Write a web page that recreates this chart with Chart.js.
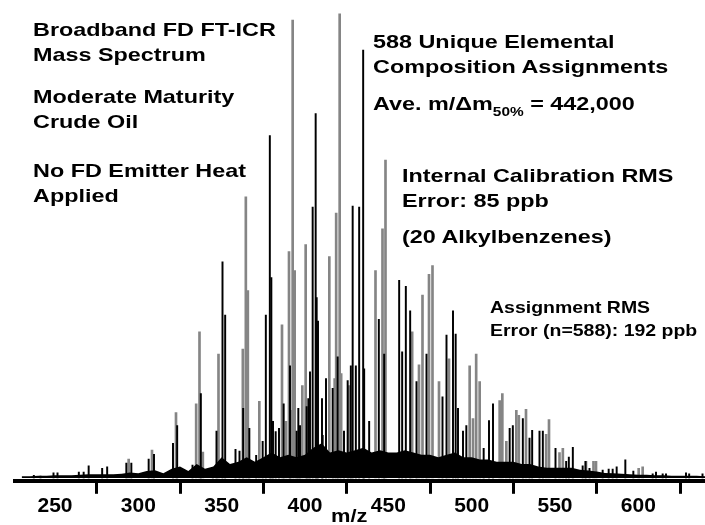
<!DOCTYPE html>
<html>
<head>
<meta charset="utf-8">
<script src="https://cdn.jsdelivr.net/npm/chart.js@4/dist/chart.umd.min.js"></script>
<style>
  html, body { margin: 0; padding: 0; background: #fff; }
  #wrap { position: relative; width: 705px; height: 525px; overflow: hidden; }
  #spec { position: absolute; left: 0; top: 0; }
  .note {
    position: absolute;
    font-family: "Liberation Sans", Arial, sans-serif;
    font-weight: bold;
    color: #000;
    white-space: nowrap;
    line-height: 1;
    transform-origin: 0 0;
  }
  .note sub { font-size: 0.66em; vertical-align: -0.45em; line-height: 0; }
</style>
</head>
<body>
<div id="wrap">
  <canvas id="spec" width="705" height="525"></canvas>
</div>
<script>
// peaks drawn in gray (m/z, relative abundance %)
const grayMz = [294.2, 308.2, 322.6, 334.7, 336.7, 338.7, 348.1, 362.7, 364.5, 365.7,
  372.6, 386.2, 388.6, 390.4, 391.6, 392.6, 393.8, 398.4, 400.4, 414.6,
  417.8, 418.7, 420.8, 421.7, 426.5, 442.3, 446.5, 448.3, 464.3, 468.4, 470.5,
  474.4, 476.5, 480.4, 486.4, 498.8, 500.8, 502.7, 504.8, 516.8, 518.4,
  520.8, 526.8, 528.3, 532.6, 544.7, 546.4, 552.7, 554.7, 568.6, 573.1, 574.6, 600.2, 602.6];
const grayInt = [4.1, 6.0, 14.1, 16.0, 31.5, 5.6, 26.7, 27.8, 60.6, 40.4,
  16.5, 33.0, 12.2, 48.8, 14.6, 98.7, 44.7, 19.9, 50.3, 47.7,
  21.4, 57.1, 100, 22.5, 19.9, 44.7, 53.7, 68.5, 31.5, 24.4, 39.4,
  43.9, 45.8, 20.8, 25.7, 24.2, 12.8, 26.7, 20.8, 16.7, 18.2,
  7.9, 14.6, 13.5, 14.8, 9.4, 12.6, 5.5, 6.4, 3.6, 3.6, 3.6, 2.1, 2.4];

// peaks drawn in black
const blackMz = [237.3, 241.3, 249.1, 251.5, 264.3, 267.2, 270.2, 278.3, 281.3, 292.8,
  295.8, 306.2, 309.4, 320.8, 323.3, 332.5, 337.5, 344.7, 346.9, 350.5,
  352.1, 358.3, 360.7, 362.9, 366.6, 370.7, 374.6, 376.5, 378.9, 379.8,
  380.8, 382.4, 384.4, 387.2, 391.0, 395.0, 396.0, 397.0, 401.0, 402.0, 403.0,
  404.6, 406.4, 407.0, 407.8, 410.2, 410.6, 412.6, 416.6, 419.6, 423.4,
  425.6, 427.5, 428.6, 430.5, 432.5, 434.9,
  435.5, 438.5, 444.3, 447.5, 456.5, 458.3, 460.5, 463.1, 466.9, 472.9,
  482.5, 484.9, 488.8, 490.4, 491.8, 494.8, 496.8, 507.2, 510.4, 512.8, 522.8,
  524.7, 530.7, 534.7, 536.3, 540.7, 542.7, 550.3, 556.7, 558.3, 560.7, 566.6, 568.3,
  570.7, 578.6, 582.2, 584.6, 587.0, 592.2, 597.0, 608.6, 610.6, 614.6,
  616.6, 628.6, 630.5, 638.5];
const blackInt = [0.6, 0.4, 1.1, 1.1, 1.3, 1.3, 2.6, 2.1, 2.4, 3.2,
  3.2, 4.1, 5.1, 7.5, 11.3, 2.8, 18.2, 1.7, 10.1, 46.6,
  35.1, 6.2, 5.8, 15.0, 10.7, 4.9, 7.9, 35.1, 73.8, 43.2,
  12.2, 10.0, 10.7, 16.0, 24.2, 10.1, 15.0, 11.3, 15.4, 17.1, 22.9,
  58.4, 78.5, 38.9, 33.8, 17.1, 9.2, 21.4, 19.3, 26.1, 10.1,
  21.0, 24.2, 58.6, 24.2, 58.4, 92.2,
  23.5, 12.2, 34.2, 26.7, 42.6, 27.2, 41.3, 36.0, 20.8, 26.7,
  17.5, 30.8, 36.0, 31.0, 15.0, 10.1, 11.3, 6.4, 12.4, 16.0, 10.7,
  11.3, 12.8, 8.6, 10.3, 10.1, 10.1, 6.4, 3.6, 4.5, 6.6, 2.6, 3.6,
  2.1, 1.7, 1.9, 1.9, 2.4, 3.9, 1.5, 0.9, 1.3, 0.9,
  0.9, 1.1, 0.9, 0.9];

// dense low-level peak forest along the base (envelope)
const floorMz = [230, 235, 240, 245, 250, 255, 260, 265, 270, 275, 280, 285, 290, 295,
  300, 305, 310, 315, 320, 325, 330, 335, 340, 345, 350, 355, 360, 365, 370, 375,
  380, 385, 390, 395, 400, 405, 410, 415, 420, 425, 430, 435, 440, 445, 450, 455,
  460, 465, 470, 475, 480, 485, 490, 495, 500, 505, 510, 515, 520, 525, 530, 535,
  540, 545, 550, 555, 560, 565, 570, 575, 580, 585, 590, 595, 600, 605, 610, 615,
  620, 625, 630, 635, 640];
const floorInt = [0.4, 0.4, 0.5, 0.5, 0.6, 0.6, 0.6, 0.7, 0.8, 0.8, 0.8, 0.8, 0.9, 1.2,
  1.0, 1.5, 1.7, 1.0, 2.0, 2.5, 1.5, 3.0, 2.0, 2.5, 4.5, 3.0, 3.5, 4.5, 3.5, 4.5,
  5.5, 4.5, 5.0, 4.5, 5.0, 6.5, 7.5, 5.5, 6.0, 5.5, 6.0, 6.5, 5.5, 6.0, 5.5, 5.5,
  6.0, 5.5, 5.0, 5.0, 4.5, 5.0, 5.5, 4.5, 4.5, 4.0, 4.0, 3.5, 3.5, 3.5, 3.0, 3.0,
  2.5, 2.2, 2.2, 2.2, 2.2, 1.8, 1.6, 1.4, 1.1, 1.0, 0.9, 0.8, 0.7, 0.7, 0.6, 0.6,
  0.5, 0.5, 0.5, 0.5, 0.4];

const majorTicks = [250, 300, 350, 400, 450, 500, 550, 600];
const minorTicks = [275, 325, 375, 425, 475, 525, 575];

const leftNotes = [
  ['Broadband FD FT-ICR', 36], ['Mass Spectrum', 61],
  ['Moderate Maturity', 103], ['Crude Oil', 128],
  ['No FD Emitter Heat', 177], ['Applied', 202]
];
const rightNotes = [
  ['588 Unique Elemental', 373, 48], ['Composition Assignments', 373, 73],
  ['Ave. m/\u0394m<sub>50%</sub> = 442,000', 373, 110],
  ['Internal Calibration RMS', 402, 182], ['Error: 85 ppb', 402, 207],
  ['(20 Alkylbenzenes)', 402, 243]
];
const smallNotes = [['Assignment RMS', 313], ['Error (n=588): 192 ppb', 336]];

const toPoints = (xs, ys) => xs.map((x, i) => ({ x: x, y: ys[i] }));

const minorTickPlugin = {
  id: 'minorTicks',
  afterDraw(chart) {
    const ctx = chart.ctx;
    const xs = chart.scales.x;
    ctx.save();
    ctx.strokeStyle = '#000';
    ctx.lineWidth = 2;
    minorTicks.forEach(v => {
      const px = Math.round(xs.getPixelForValue(v));
      ctx.beginPath();
      ctx.moveTo(px, xs.top);
      ctx.lineTo(px, xs.top + 10);
      ctx.stroke();
    });
    ctx.restore();
  }
};

const chart = new Chart(document.getElementById('spec'), {
  type: 'bar',
  data: {
    datasets: [
      {
        type: 'line',
        data: toPoints(floorMz, floorInt),
        borderWidth: 0,
        pointRadius: 0,
        fill: 'origin',
        backgroundColor: '#000',
        tension: 0,
        order: 0
      },
      {
        data: toPoints(blackMz, blackInt),
        backgroundColor: '#000',
        barThickness: 1.3,
        grouped: false,
        order: 1
      },
      {
        data: toPoints(grayMz, grayInt),
        backgroundColor: '#858585',
        barThickness: 2,
        grouped: false,
        order: 2
      }
    ]
  },
  options: {
    responsive: false,
    animation: false,
    devicePixelRatio: 1,
    layout: { padding: { left: 15, right: 0, top: 0, bottom: 6 } },
    plugins: { legend: { display: false }, tooltip: { enabled: false } },
    scales: {
      x: {
        type: 'linear',
        min: 226,
        max: 640,
        offset: false,
        border: { display: true, color: '#000', width: 4 },
        grid: {
          display: true,
          drawOnChartArea: false,
          drawTicks: true,
          tickLength: 13,
          tickWidth: 3,
          tickColor: '#000'
        },
        ticks: {
          stepSize: 50,
          includeBounds: false,
          autoSkip: false,
          maxRotation: 0,
          padding: 0,
          color: '#000',
          font: { family: 'Liberation Sans', weight: 'bold', size: 21 },
          callback: v => (majorTicks.includes(v) ? String(v) : '')
        }
      },
      y: { display: false, min: -0.6, max: 103 }
    }
  },
  plugins: [minorTickPlugin]
});

// text annotations
const wrap = document.getElementById('wrap');
function addNote(html, x, baseline, size, stretch) {
  const d = document.createElement('div');
  d.className = 'note';
  d.innerHTML = html;
  d.style.fontSize = size + 'px';
  d.style.left = x + 'px';
  d.style.top = (baseline - 0.8465 * size) + 'px';
  d.style.transform = 'scaleX(' + stretch + ')';
  wrap.appendChild(d);
}
leftNotes.forEach(n => addNote(n[0], 33, n[1], 19, 1.23));
rightNotes.forEach(n => addNote(n[0], n[1], n[2], 19, 1.23));
smallNotes.forEach(n => addNote(n[0], 490, n[1], 16.5, 1.18));
addNote('m/z', 331, 522, 19, 1.15);
</script>
</body>
</html>
